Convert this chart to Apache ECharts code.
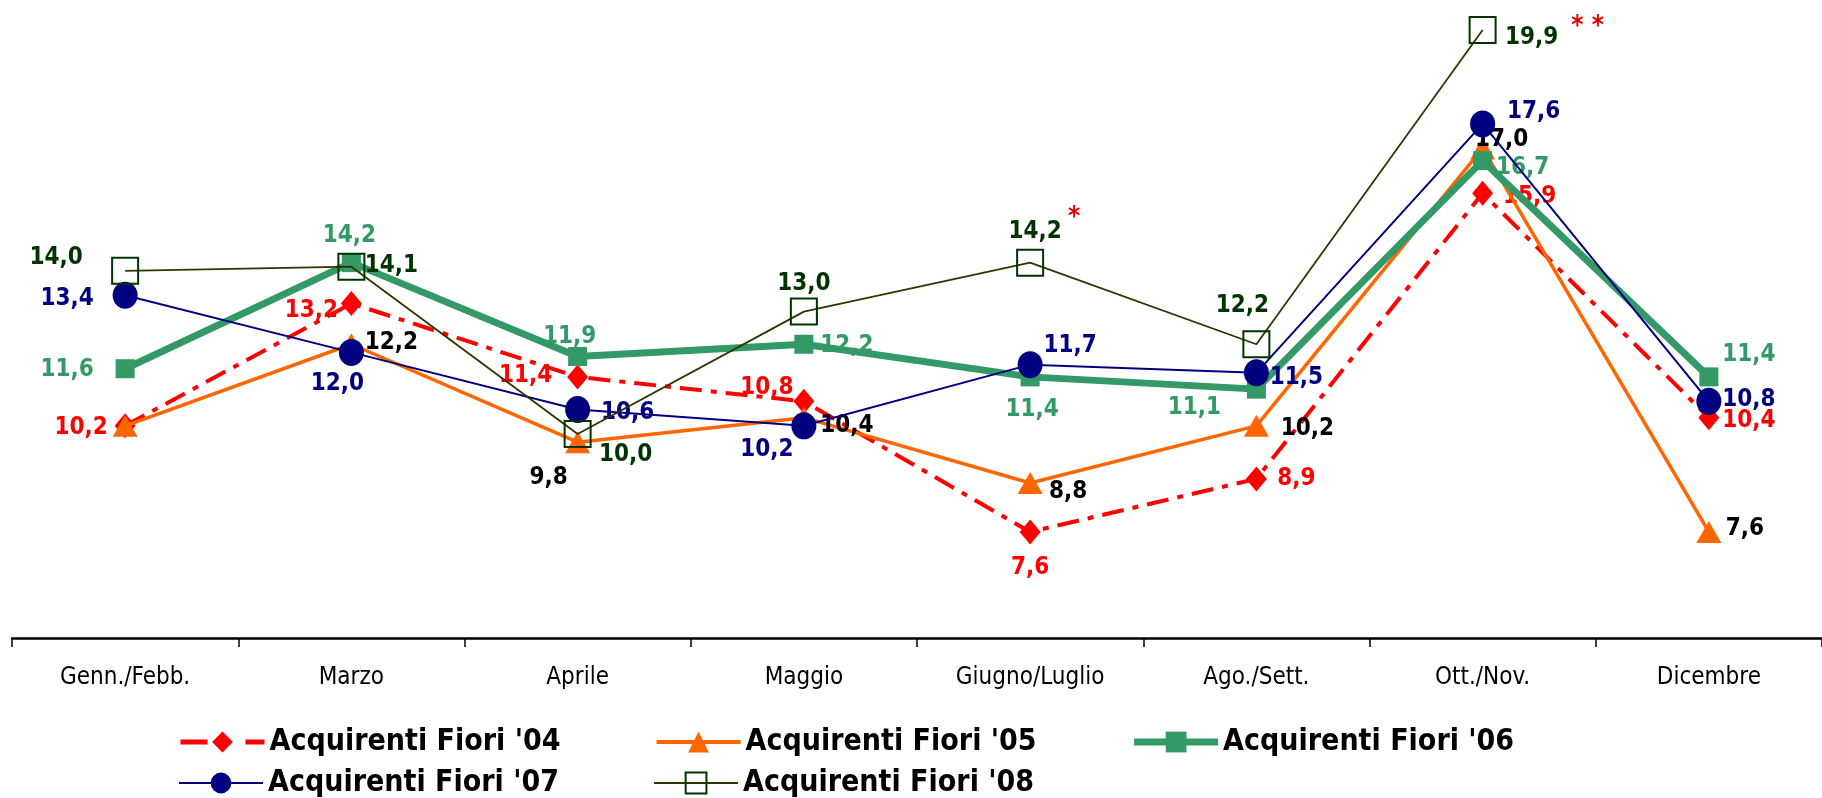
<!DOCTYPE html>
<html>
<head>
<meta charset="utf-8">
<script src="https://cdn.jsdelivr.net/npm/echarts@6/dist/echarts.min.js"></script>
<style>
html, body { margin: 0; padding: 0; background: #fff; }
#chart { width: 1822px; height: 798px; }
</style>
</head>
<body>
<div id="chart"></div>
<script>
// categorie e valori
var categories = ['Genn./Febb.', 'Marzo', 'Aprile', 'Maggio', 'Giugno/Luglio', 'Ago./Sett.', 'Ott./Nov.', 'Dicembre'];
var fiori04 = [10.2, 13.2, 11.4, 10.8, 7.6, 8.9, 15.9, 10.4];
var fiori05 = [10.2, 12.2, 9.8, 10.4, 8.8, 10.2, 17.0, 7.6];
var fiori06 = [11.6, 14.2, 11.9, 12.2, 11.4, 11.1, 16.7, 11.4];
var fiori07 = [13.4, 12.0, 10.6, 10.2, 11.7, 11.5, 17.6, 10.8];
var fiori08 = [14.0, 14.1, 10.0, 13.0, 14.2, 12.2, 19.9, null];
var note08 = ['', '', '', '', '*', '', '* *', ''];

// posizione delle etichette (centro testo rispetto al punto)
var off04 = [[-44, 2], [-40, 7], [-52, -1], [-37, -14], [0, 36], [40, 0], [47, 3], [40, 3]];
var off05 = [null, [40, -1], [-29, 36], [43, 8], [38, 9], [51, 3], [19, -9], [36, -3]];
var off06 = [[-58, 1], [-2, -27], [-8, -20], [43, 2], [2, 33], [-62, 19], [40, 7], [40, -22]];
var off07 = [[-58, 3], [-14, 31], [50, 3], [-37, 24], [40, -19], [40, 5], [51, -12], [40, -2]];
var off08 = [[-69, -13], [40, -1], [48, 21], [0, -28], [5, -31], [-14, -38], [49, 8], null];
var offNote = [null, null, null, null, [44, -44], null, [105, -3], null];

var FONT = "'DejaVu Sans Condensed', 'DejaVu Sans', sans-serif";

function fmt(v) {
	return v.toFixed(1).replace('.', ',');
}

function buildData(values, offsets, color) {
	return values.map(function (v, i) {
		var o = offsets[i];
		if (v == null) return '-';
		return {
			value: v,
			label: {
				show: o != null,
				position: 'inside',
				offset: o || [0, 0],
				color: color
			}
		};
	});
}

var chart = echarts.init(document.getElementById('chart'));

var labelBase = {
	fontFamily: FONT,
	fontWeight: 'bold',
	fontSize: 24,
	formatter: function (p) { return fmt(p.value); }
};

var notePoints = [];
note08.forEach(function (n, i) {
	if (n) {
		notePoints.push({
			coord: [categories[i], fiori08[i]],
			label: { show: true, formatter: n, offset: offNote[i], position: 'inside' }
		});
	}
});

var legendText = { fontFamily: FONT, fontWeight: 'bold', fontSize: 30, color: '#000' };

var option = {
	backgroundColor: '#ffffff',
	animation: false,
	grid: { left: 12, right: 0, top: 26, bottom: 160 },
	legend: [{
		left: 173, top: 722,
		itemWidth: 84, itemHeight: 26, itemGap: 94,
		textStyle: legendText,
		data: [
			{ name: "Acquirenti Fiori '04", lineStyle: { width: 5, type: [27, 38] } },
			{ name: "Acquirenti Fiori '05", lineStyle: { width: 4 } },
			{ name: "Acquirenti Fiori '06", lineStyle: { width: 7 } }
		]
	}, {
		left: 173, top: 763,
		itemWidth: 84, itemHeight: 26, itemGap: 94,
		textStyle: legendText,
		data: [
			{ name: "Acquirenti Fiori '07", lineStyle: { width: 2 } },
			{ name: "Acquirenti Fiori '08", lineStyle: { width: 2 } }
		]
	}],
	xAxis: {
		type: 'category',
		data: categories,
		boundaryGap: true,
		axisLine: { lineStyle: { color: '#000', width: 2.5 } },
		axisTick: { show: true, length: 9, lineStyle: { color: '#000', width: 1.5 } },
		axisLabel: { fontFamily: FONT, fontSize: 24, color: '#000', margin: 28 }
	},
	yAxis: {
		type: 'value',
		min: 5,
		max: 20,
		show: false,
		splitLine: { show: false }
	},
	series: [{
		name: "Acquirenti Fiori '04",
		type: 'line',
		data: buildData(fiori04, off04, '#FF0000'),
		symbol: 'diamond',
		symbolSize: [21, 25],
		itemStyle: { color: '#FF0000' },
		lineStyle: { color: '#FF0000', width: 4, type: [22, 9, 6, 9] },
		label: labelBase,
		z: 2
	}, {
		name: "Acquirenti Fiori '05",
		type: 'line',
		data: buildData(fiori05, off05, '#000000'),
		symbol: 'triangle',
		symbolSize: [25, 22],
		itemStyle: { color: '#FF6600' },
		lineStyle: { color: '#FF6600', width: 3.5 },
		label: labelBase,
		z: 3
	}, {
		name: "Acquirenti Fiori '06",
		type: 'line',
		data: buildData(fiori06, off06, '#339966'),
		symbol: 'rect',
		symbolSize: 19,
		itemStyle: { color: '#339966' },
		lineStyle: { color: '#339966', width: 7 },
		label: labelBase,
		z: 4
	}, {
		name: "Acquirenti Fiori '07",
		type: 'line',
		data: buildData(fiori07, off07, '#000080'),
		symbol: 'circle',
		symbolSize: [25, 27],
		itemStyle: { color: '#000080' },
		lineStyle: { color: '#000080', width: 2 },
		label: labelBase,
		z: 5
	}, {
		name: "Acquirenti Fiori '08",
		type: 'line',
		data: buildData(fiori08, off08, '#003300'),
		symbol: 'rect',
		symbolSize: 26,
		itemStyle: { color: 'rgba(255,255,255,0)', borderColor: '#003300', borderWidth: 2 },
		lineStyle: { color: '#333300', width: 1.8 },
		label: labelBase,
		markPoint: {
			symbol: 'circle',
			symbolSize: 1,
			itemStyle: { color: 'rgba(0,0,0,0)' },
			label: { color: '#E00000', fontFamily: FONT, fontSize: 26, fontWeight: 'bold' },
			data: notePoints
		},
		z: 6
	}]
};

chart.setOption(option);
</script>
</body>
</html>
